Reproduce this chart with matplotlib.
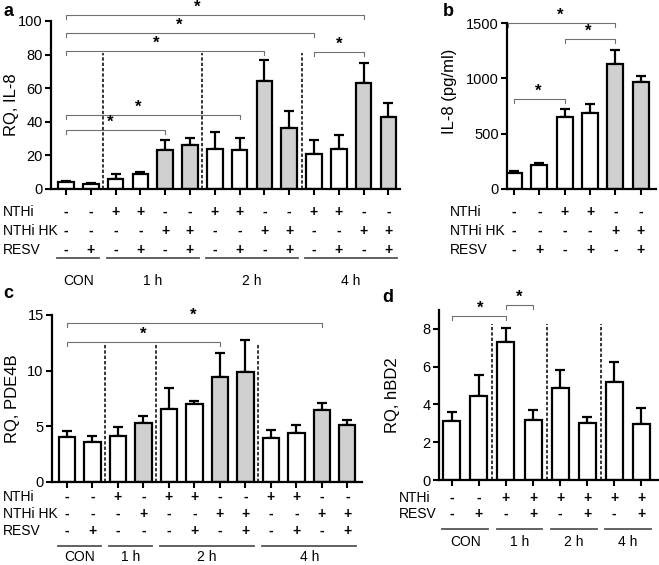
import numpy as np
import matplotlib.pyplot as plt
from matplotlib import transforms

plt.rcParams['font.family'] = ['Liberation Sans', 'DejaVu Sans']

W, H = 659, 565

# ---- panel a: RQ, IL-8 ----
a_vals = [4.0, 2.8, 6.0, 9.0, 23.0, 26.0, 24.0, 23.0, 64.0, 36.5, 21.0, 24.0, 63.0, 43.0]
a_err = [1.0, 0.7, 3.0, 1.0, 6.0, 4.5, 10.0, 7.5, 13.0, 10.0, 8.0, 8.0, 12.0, 8.0]
a_grey = [0, 0, 0, 0, 1, 1, 0, 0, 1, 1, 0, 0, 1, 1]
a_nthi = ['-', '-', '+', '+', '-', '-', '+', '+', '-', '-', '+', '+', '-', '-']
a_nthihk = ['-', '-', '-', '-', '+', '+', '-', '-', '+', '+', '-', '-', '+', '+']
a_resv = ['-', '+', '-', '+', '-', '+', '-', '+', '-', '+', '-', '+', '-', '+']
a_groups = [('CON', 0, 1), ('1 h', 2, 5), ('2 h', 6, 9), ('4 h', 10, 13)]
a_dividers = [1.5, 5.5, 9.5]
a_divider_top = 81
# (from bar, to bar, height, star x)
a_brackets = [(0, 12, 103.6, 5.3), (0, 10, 93, 4.55), (0, 8, 82.3, 3.65),
              (0, 7, 44, 2.9), (0, 4, 35, 1.77), (10, 12, 81.7, 11.0)]

# ---- panel b: IL-8 (pg/ml) ----
b_vals = [145, 215, 650, 690, 1130, 970]
b_err = [15, 22, 75, 80, 130, 55]
b_grey = [0, 0, 0, 0, 1, 1]
b_nthi = ['-', '-', '+', '+', '-', '-']
b_nthihk = ['-', '-', '-', '-', '+', '+']
b_resv = ['-', '+', '-', '+', '-', '+']
b_brackets = [(-0.25, 4, 1500, 1.83), (2, 4, 1357, 2.94), (0, 2, 816, 0.95)]

# ---- panel c: RQ, PDE4B ----
c_vals = [4.05, 3.55, 4.1, 5.3, 6.5, 7.0, 9.45, 9.9, 3.95, 4.4, 6.45, 5.1]
c_err = [0.5, 0.55, 0.8, 0.6, 1.9, 0.3, 2.15, 2.85, 0.7, 0.7, 0.65, 0.45]
c_grey = [0, 0, 0, 1, 0, 0, 1, 1, 0, 0, 1, 1]
c_nthi = ['-', '-', '+', '-', '+', '+', '-', '-', '+', '+', '-', '-']
c_nthihk = ['-', '-', '-', '+', '-', '-', '+', '+', '-', '-', '+', '+']
c_resv = ['-', '+', '-', '-', '-', '+', '-', '+', '-', '+', '-', '+']
c_groups = [('CON', 0, 1), ('1 h', 2, 3), ('2 h', 4, 7), ('4 h', 8, 11)]
c_dividers = [1.5, 3.5, 7.5]
c_divider_top = 12.4
c_brackets = [(0, 10, 14.26, 4.94), (0, 6, 12.6, 2.98)]

# ---- panel d: RQ, hBD2 ----
d_vals = [3.15, 4.45, 7.3, 3.2, 4.85, 3.0, 5.2, 2.95]
d_err = [0.45, 1.1, 0.75, 0.5, 1.0, 0.35, 1.05, 0.85]
d_grey = [0, 0, 0, 0, 0, 0, 0, 0]
d_nthi = ['-', '-', '+', '+', '+', '+', '+', '+']
d_resv = ['-', '+', '-', '+', '-', '+', '-', '+']
d_groups = [('CON', 0, 1), ('1 h', 2, 3), ('2 h', 4, 5), ('4 h', 6, 7)]
d_dividers = [1.5, 3.5, 5.5]
d_divider_top = 8.25
d_brackets = [(0, 2, 8.69, 1.05), (2, 3, 9.26, 2.49)]

fig = plt.figure(figsize=(W / 100, H / 100), dpi=100)


def px_axes(left, right, top, bottom):
    return fig.add_axes([left / W, 1 - bottom / H, (right - left) / W, (bottom - top) / H])


def fy(y):
    return 1 - y / H


def draw_bars(ax, vals, errs, grey, ylim, yticks, xlim, bounded=True):
    x = np.arange(len(vals))
    colors = ['#d0d0d0' if g else 'white' for g in grey]
    ax.errorbar(x, vals, yerr=[np.zeros(len(errs)), errs], fmt='none', ecolor='black',
                elinewidth=1.6, capsize=3.5, capthick=1.6, zorder=1)
    ax.bar(x, vals, width=0.63, color=colors, edgecolor='black', linewidth=1.6, zorder=2)
    ax.set_xlim(*xlim)
    ax.set_ylim(*ylim)
    ax.set_yticks(yticks)
    ax.set_xticks(x)
    ax.set_xticklabels([])
    for s in ['top', 'right']:
        ax.spines[s].set_visible(False)
    for s in ['left', 'bottom']:
        ax.spines[s].set_linewidth(1.6)
    if bounded:
        ax.spines['left'].set_bounds(yticks[0], yticks[-1])
    ax.tick_params(length=4, width=1.5, labelsize=10.5, pad=2)


def rows(ax, names, signs, ys, name_x):
    trans = transforms.blended_transform_factory(ax.transData, fig.transFigure)
    for name, r, y in zip(names, signs, ys):
        fig.text(name_x / W, fy(y), name, ha='left', va='center', fontsize=10)
        for i, s in enumerate(r):
            ax.text(i, fy(y), s, transform=trans, ha='center', va='center',
                    fontsize=10, fontweight='bold', clip_on=False)


def groups(ax, grp, uy, ly):
    trans = transforms.blended_transform_factory(ax.transData, fig.transFigure)
    for label, i0, i1 in grp:
        ax.plot([i0 - 0.35, i1 + 0.35], [fy(uy), fy(uy)], transform=trans,
                color='#555555', lw=1.3, clip_on=False)
        ax.text((i0 + i1) / 2, fy(ly), label, transform=trans, ha='center',
                va='center', fontsize=10)


def brackets(ax, br, hpx):
    lo, hi = ax.get_ylim()
    tick = (hi - lo) * 4 / hpx
    for x0, x1, y, sx in br:
        ax.plot([x0, x0, x1, x1], [y - tick, y, y, y - tick], color='#707070',
                lw=0.8, clip_on=False)
        ax.annotate('*', (sx, y), xytext=(0, 5.5), textcoords='offset points',
                    ha='center', va='center', fontsize=12, fontweight='bold',
                    annotation_clip=False)


def dividers(ax, xs, top):
    ax.vlines(xs, 0, top, colors='black', linestyles=(0, (2.2, 1.3)), lw=1.1, zorder=3)


# panel a
ax_a = px_axes(51, 400, 21, 189)
draw_bars(ax_a, a_vals, a_err, a_grey, (0, 100), [0, 20, 40, 60, 80, 100], (-0.605, 13.47))
ax_a.set_ylabel('RQ, IL-8', fontsize=12)
ax_a.yaxis.set_label_coords((19 - 51) / 349, 0.5)
dividers(ax_a, a_dividers, a_divider_top)
brackets(ax_a, a_brackets, 168)
rows(ax_a, ['NTHi', 'NTHi HK', 'RESV'], [a_nthi, a_nthihk, a_resv], [212, 231, 250], 3)
groups(ax_a, a_groups, 258, 281)
fig.text(3 / W, fy(12), 'a', fontsize=13, fontweight='bold', va='center')

# panel b
ax_b = px_axes(507, 656, 23.3, 188.7)
draw_bars(ax_b, b_vals, b_err, b_grey, (0, 1500), [0, 500, 1000, 1500], (-0.278, 5.6))
ax_b.set_ylabel('IL-8 (pg/ml)', fontsize=12)
ax_b.yaxis.set_label_coords((457 - 507) / 149, 0.59)
brackets(ax_b, b_brackets, 165.4)
rows(ax_b, ['NTHi', 'NTHi HK', 'RESV'], [b_nthi, b_nthihk, b_resv], [212, 231, 250], 450)
fig.text(443 / W, fy(12), 'b', fontsize=13, fontweight='bold', va='center')

# panel c
ax_c = px_axes(52, 362, 315, 481.7)
draw_bars(ax_c, c_vals, c_err, c_grey, (0, 15), [0, 5, 10, 15], (-0.588, 11.57))
ax_c.set_ylabel('RQ, PDE4B', fontsize=12)
ax_c.yaxis.set_label_coords((20 - 52) / 310, 0.5)
dividers(ax_c, c_dividers, c_divider_top)
brackets(ax_c, c_brackets, 166.7)
rows(ax_c, ['NTHi', 'NTHi HK', 'RESV'], [c_nthi, c_nthihk, c_resv], [497, 514, 531], 3)
groups(ax_c, c_groups, 546, 557)
fig.text(3 / W, fy(294), 'c', fontsize=13, fontweight='bold', va='center')

# panel d
ax_d = px_axes(439, 658, 310, 480)
draw_bars(ax_d, d_vals, d_err, d_grey, (0, 9), [0, 2, 4, 6, 8], (-0.476, 7.62), bounded=False)
ax_d.set_ylabel('RQ, hBD2', fontsize=12)
ax_d.yaxis.set_label_coords((400 - 439) / 219, 0.5)
dividers(ax_d, d_dividers, d_divider_top)
brackets(ax_d, d_brackets, 170)
rows(ax_d, ['NTHi', 'RESV'], [d_nthi, d_resv], [498, 514], 399)
groups(ax_d, d_groups, 529, 542)
fig.text(382 / W, fy(297), 'd', fontsize=13, fontweight='bold', va='center')

fig.savefig('out.png', dpi=100)
